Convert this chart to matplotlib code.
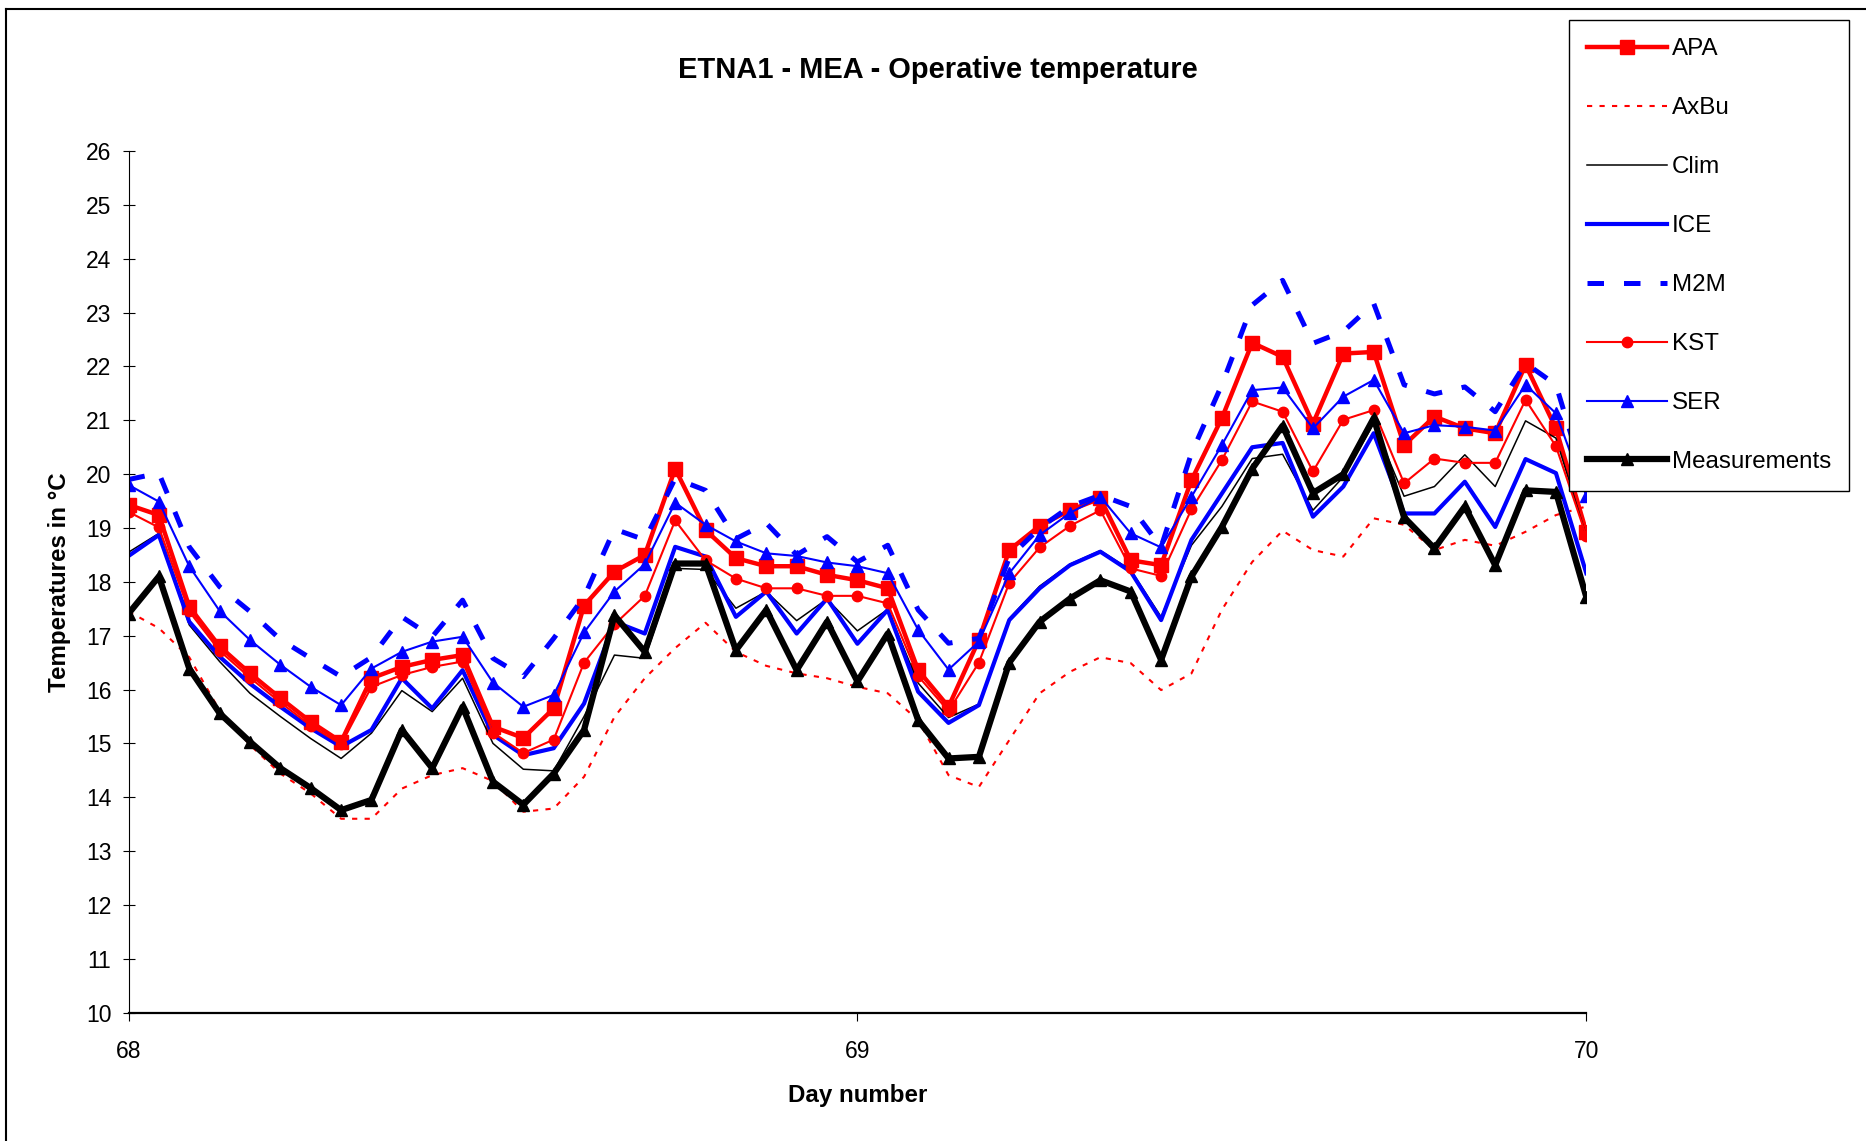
import matplotlib
matplotlib.use('Agg')
import matplotlib.pyplot as plt
from matplotlib.lines import Line2D

plt.rcParams['font.family'] = ['Liberation Sans', 'DejaVu Sans']

# ---- data (hourly values, day 68 to day 70) ----
hours = list(range(49))
day = [68 + h / 24 for h in hours]

apa = [19.43, 19.24, 17.54, 16.8, 16.3, 15.84, 15.4, 15.03, 16.21, 16.42, 16.55, 16.64,
       15.31, 15.1, 15.65, 17.56, 18.19, 18.5, 20.1, 18.96, 18.44, 18.29, 18.29, 18.13,
       18.03, 17.88, 16.36, 15.68, 16.92, 18.59, 19.04, 19.33, 19.55, 18.4, 18.31, 19.89,
       21.04, 22.44, 22.18, 20.94, 22.24, 22.27, 20.54, 21.07, 20.85, 20.76, 22.03, 20.85, 18.93]

axbu = [17.45, 17.14, 16.6, 15.61, 14.97, 14.44, 14.07, 13.6, 13.6, 14.16, 14.41, 14.54,
        14.3, 13.73, 13.79, 14.38, 15.49, 16.21, 16.77, 17.24, 16.7, 16.44, 16.3, 16.21,
        16.05, 15.93, 15.43, 14.41, 14.19, 15.06, 15.93, 16.33, 16.6, 16.49, 15.99, 16.3,
        17.48, 18.37, 18.95, 18.59, 18.47, 19.18, 19.06, 18.59, 18.78, 18.67, 18.93, 19.24, 19.4]

clim = [18.55, 18.9, 17.2, 16.52, 15.93, 15.5, 15.09, 14.72, 15.19, 15.98, 15.59, 16.21,
        15.0, 14.52, 14.49, 15.5, 16.64, 16.58, 18.25, 18.23, 17.51, 17.82, 17.28, 17.68,
        17.09, 17.49, 16.12, 15.48, 15.73, 17.32, 17.92, 18.33, 18.58, 18.22, 17.35, 18.68,
        19.4, 20.29, 20.37, 19.33, 19.95, 20.94, 19.59, 19.77, 20.36, 19.77, 20.99, 20.67, 18.85]

ice = [18.48, 18.87, 17.26, 16.61, 16.11, 15.68, 15.28, 14.94, 15.25, 16.21, 15.65, 16.36,
       15.16, 14.78, 14.91, 15.74, 17.26, 17.04, 18.65, 18.47, 17.35, 17.82, 17.04, 17.69,
       16.85, 17.48, 15.96, 15.38, 15.71, 17.29, 17.88, 18.31, 18.56, 18.19, 17.29, 18.78,
       19.64, 20.5, 20.58, 19.21, 19.77, 20.76, 19.27, 19.27, 19.86, 19.02, 20.28, 20.02, 18.16]

m2m = [19.9, 20.02, 18.65, 17.91, 17.45, 16.93, 16.58, 16.24, 16.6, 17.35, 16.98, 17.66,
       16.58, 16.24, 16.95, 17.72, 18.98, 18.78, 19.92, 19.7, 18.8, 19.09, 18.5, 18.84,
       18.37, 18.68, 17.48, 16.86, 16.95, 18.45, 19.0, 19.4, 19.61, 19.4, 18.65, 20.39,
       21.66, 23.14, 23.6, 22.43, 22.65, 23.17, 21.66, 21.49, 21.62, 21.16, 22.06, 21.66, 19.8]

kst = [19.3, 19.01, 17.45, 16.72, 16.22, 15.76, 15.33, 14.98, 16.05, 16.27, 16.42, 16.52,
       15.2, 14.82, 15.07, 16.5, 17.21, 17.74, 19.14, 18.4, 18.06, 17.88, 17.88, 17.74,
       17.74, 17.6, 16.25, 15.6, 16.5, 17.98, 18.64, 19.04, 19.33, 18.25, 18.11, 19.35,
       20.26, 21.35, 21.16, 20.05, 21.01, 21.19, 19.83, 20.29, 20.21, 20.21, 21.38, 20.52, 18.85]

ser = [19.8, 19.49, 18.29, 17.46, 16.92, 16.46, 16.05, 15.71, 16.39, 16.7, 16.89, 16.98,
       16.13, 15.68, 15.9, 17.06, 17.82, 18.33, 19.47, 19.06, 18.75, 18.53, 18.48, 18.36,
       18.29, 18.16, 17.11, 16.37, 16.89, 18.16, 18.87, 19.28, 19.58, 18.9, 18.64, 19.58,
       20.54, 21.56, 21.61, 20.85, 21.44, 21.75, 20.76, 20.91, 20.88, 20.81, 21.66, 21.13, 19.6]

measurements = [17.41, 18.1, 16.39, 15.56, 15.03, 14.54, 14.17, 13.76, 13.95, 15.25, 14.54, 15.68,
                14.29, 13.86, 14.44, 15.25, 17.38, 16.7, 18.34, 18.34, 16.73, 17.48, 16.36, 17.26,
                16.15, 17.04, 15.43, 14.72, 14.75, 16.5, 17.26, 17.69, 18.03, 17.82, 16.55, 18.1,
                19.02, 20.1, 20.9, 19.65, 20.0, 21.04, 19.2, 18.62, 19.4, 18.31, 19.7, 19.67, 17.72]

y_ticks = list(range(10, 27))
x_ticks = [68, 69, 70]

# ---- figure ----
W, H = 1866, 1141
fig = plt.figure(figsize=(W / 100, H / 100), dpi=100)
fig.patch.set_facecolor('white')
ax = fig.add_axes([128.5 / W, 1 - 1012.6 / H, (1586.3 - 128.5) / W, (1012.6 - 151.1) / H])

RED = '#FF0000'
BLUE = '#0000FF'

ax.plot(day, apa, color=RED, lw=3.2, marker='s', ms=9.5, mec=RED, mfc=RED, label='APA')
ax.plot(day, axbu, color=RED, lw=1.5, linestyle=(0, (2.5, 3.5)), label='AxBu')
ax.plot(day, clim, color='black', lw=1.1, label='Clim')
ax.plot(day, ice, color=BLUE, lw=3.0, label='ICE')
ax.plot(day, m2m, color=BLUE, lw=3.6, linestyle=(0, (3.3, 4.0)), dash_capstyle='butt', label='M2M')
ax.plot(day, kst, color=RED, lw=1.5, marker='o', ms=7.5, mec=RED, mfc=RED, label='KST')
ax.plot(day, ser, color=BLUE, lw=1.5, marker='^', ms=9, mec=BLUE, mfc=BLUE, label='SER')
ax.plot(day, measurements, color='black', lw=4.5, marker='^', ms=9, mec='black', mfc='black',
        label='Measurements')

ax.set_xlim(68, 70)
ax.set_ylim(10, 26)
ax.set_yticks(y_ticks)
ax.set_xticks(x_ticks)
ax.set_xticklabels([str(v) for v in x_ticks])
for s in ['top', 'right']:
    ax.spines[s].set_visible(False)
ax.spines['left'].set_linewidth(0.8)
ax.spines['bottom'].set_linewidth(1.6)
ax.tick_params(axis='y', direction='inout', length=8.6, width=0.8, labelsize=16.5, pad=8)
ax.tick_params(axis='x', direction='out', length=6, width=0.8, labelsize=16.5, pad=14)

ax.set_xlabel('Day number', fontsize=17.4, fontweight='bold', labelpad=15)
ax.set_ylabel('Temperatures in °C', fontsize=17.4, fontweight='bold', labelpad=11)

fig.text(938 / W, 1 - 70 / H, 'ETNA1 - MEA - Operative temperature', ha='center', va='center',
         fontsize=20.9, fontweight='bold')

leg = fig.legend(*ax.get_legend_handles_labels(), loc='upper left',
                 bbox_to_anchor=(1569 / W, 1 - 20 / H), bbox_transform=fig.transFigure,
                 fontsize=17.4, frameon=True, fancybox=False, framealpha=1, edgecolor='black',
                 borderpad=0.75, handlelength=3.3, handletextpad=0.2, labelspacing=1.53,
                 borderaxespad=0)
leg.get_frame().set_linewidth(1.0)

# outer chart border (left and top visible)
fig.add_artist(Line2D([6 / W, 6 / W], [0, 1 - 9 / H], transform=fig.transFigure, color='black', lw=1.5))
fig.add_artist(Line2D([6 / W, 1], [1 - 9 / H, 1 - 9 / H], transform=fig.transFigure, color='black', lw=1.5))

fig.savefig('out.png', dpi=100)
